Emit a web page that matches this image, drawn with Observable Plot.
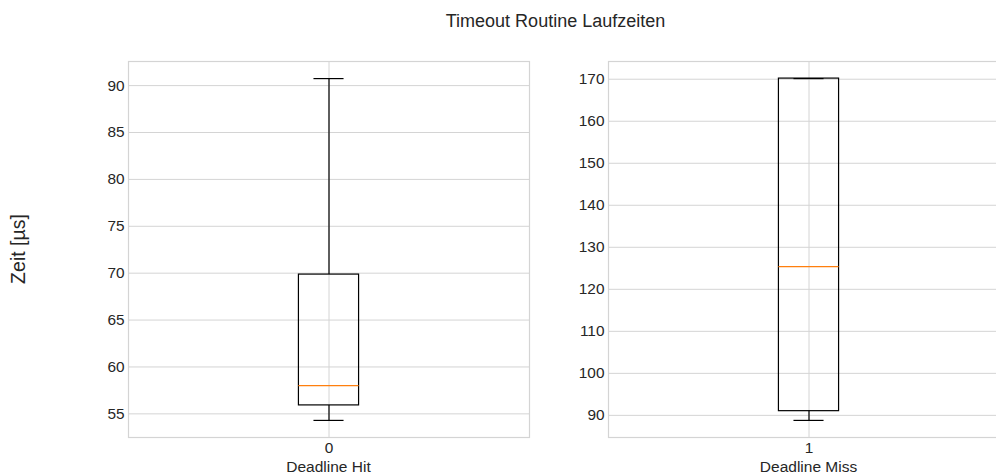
<!DOCTYPE html>
<html>
<head>
<meta charset="utf-8">
<script src="https://cdn.jsdelivr.net/npm/d3@7"></script>
<script src="https://cdn.jsdelivr.net/npm/@observablehq/plot@0.6"></script>
<style>
  html, body { margin: 0; padding: 0; background: #fff; }
  #wrap { position: relative; width: 996px; height: 475px; overflow: hidden; font-family: "Liberation Sans", Arial, sans-serif; color: #262626; }
  .abs { position: absolute; white-space: nowrap; line-height: 1; }
</style>
</head>
<body>
<div id="wrap"></div>
<script>
// ---- data ----
const title = "Timeout Routine Laufzeiten";
const yLabel = "Zeit [µs]";
const panelLabels = ["Deadline Hit", "Deadline Miss"];
const positions = [0, 1];
const whiskerLow = [54.3, 88.8];
const q1 = [55.9, 91.0];
const median = [58.0, 125.4];
const q3 = [69.85, 170.15];
const whiskerHigh = [90.75, 170.15];
const yTicksHit = [55, 60, 65, 70, 75, 80, 85, 90];
const yTicksMiss = [90, 100, 110, 120, 130, 140, 150, 160, 170];
const yTicks = [yTicksHit, yTicksMiss];

const wrap = document.getElementById("wrap");
const font = '"Liberation Sans", Arial, sans-serif';
const grid = "#d4d4d4";
const dark = "#262626";

function addText(txt, css) {
  const d = document.createElement("div");
  d.className = "abs";
  d.textContent = txt;
  Object.assign(d.style, css);
  wrap.appendChild(d);
  return d;
}

// title
addText(title, {left: "555.5px", top: "20.5px", transform: "translate(-50%,-50%)", fontSize: "18px"});
// y label
addText(yLabel, {left: "19px", top: "248.5px", transform: "translate(-50%,-50%) rotate(-90deg)", fontSize: "19.5px"});

const frameLefts = [128, 608];
const frameTop = 61, frameW = 401, frameH = 376;
const mL = 50, mT = 10, mR = 10, mB = 30;
const boxHalf = 0.075, capHalf = 0.0375;

positions.forEach((pos, i) => {
  const lo = whiskerLow[i], hi = whiskerHigh[i];
  const pad = (hi - lo) * 0.05;
  const row = [{pos, lo, q1: q1[i], med: median[i], q3: q3[i], hi}];
  const chart = Plot.plot({
    width: mL + frameW + mR,
    height: mT + frameH + mB,
    marginLeft: mL, marginTop: mT, marginRight: mR, marginBottom: mB,
    style: {fontFamily: font, fontSize: "15.4px", color: dark, background: "transparent", overflow: "visible"},
    x: {domain: [pos - 0.5, pos + 0.5]},
    y: {domain: [lo - pad, hi + pad]},
    marks: [
      Plot.gridY(yTicks[i], {stroke: grid, strokeOpacity: 1, strokeWidth: 1}),
      Plot.gridX([pos], {stroke: grid, strokeOpacity: 1, strokeWidth: 1}),
      Plot.frame({stroke: grid, strokeWidth: 1.2}),
      Plot.ruleX(row, {x: "pos", y1: "q3", y2: "hi", stroke: "#000", strokeWidth: 1.2}),
      Plot.ruleX(row, {x: "pos", y1: "lo", y2: "q1", stroke: "#000", strokeWidth: 1.2}),
      Plot.ruleY(row, {y: "hi", x1: d => d.pos - capHalf, x2: d => d.pos + capHalf, stroke: "#000", strokeWidth: 1.2}),
      Plot.ruleY(row, {y: "lo", x1: d => d.pos - capHalf, x2: d => d.pos + capHalf, stroke: "#000", strokeWidth: 1.2}),
      Plot.rect(row, {x1: d => d.pos - boxHalf, x2: d => d.pos + boxHalf, y1: "q1", y2: "q3", fill: "none", stroke: "#000", strokeWidth: 1.2}),
      Plot.ruleY(row, {y: "med", x1: d => d.pos - boxHalf, x2: d => d.pos + boxHalf, stroke: "#ff7f0e", strokeWidth: 1.2}),
      Plot.axisY(yTicks[i], {tickSize: 0, tickPadding: 4, label: null, fill: dark, fontSize: 15.4}),
      Plot.axisX([pos], {tickSize: 0, tickPadding: 5, label: null, fill: dark, fontSize: 15.4, tickFormat: d => String(d)})
    ]
  });
  chart.style.position = "absolute";
  chart.style.left = (frameLefts[i] - mL) + "px";
  chart.style.top = (frameTop - mT) + "px";
  wrap.appendChild(chart);
  addText(panelLabels[i], {left: (frameLefts[i] + frameW / 2) + "px", top: "467px", transform: "translate(-50%,-50%)", fontSize: "15.5px"});
});
</script>
</body>
</html>
